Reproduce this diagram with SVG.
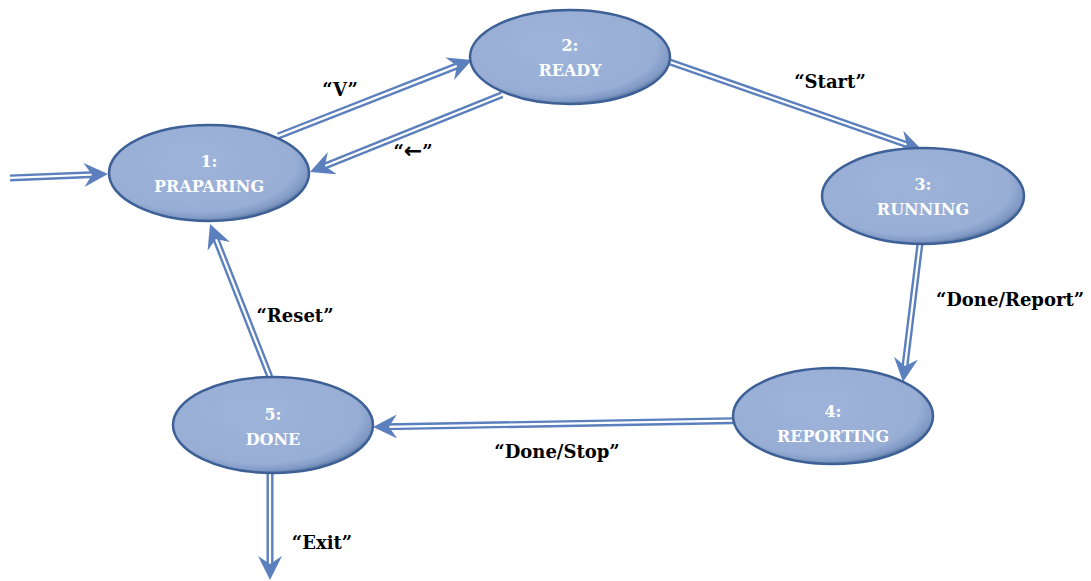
<svg xmlns="http://www.w3.org/2000/svg" width="1091" height="581" viewBox="0 0 1091 581">
<defs>
<radialGradient id="g" cx="0.45" cy="0.42" r="0.6" fx="0.4" fy="0.35">
<stop offset="0" stop-color="#9DB3D9"/>
<stop offset="0.82" stop-color="#98AED5"/>
<stop offset="0.93" stop-color="#8099C4"/>
<stop offset="1" stop-color="#4F6A98"/>
</radialGradient>
<style>
.node ellipse{fill:url(#g);stroke:#3D6096;stroke-width:2.5}
.nt{font-family:"DejaVu Serif","Liberation Serif",serif;font-weight:bold;font-size:16px;fill:#FFFFFF;text-anchor:middle}
.lbl{font-family:"DejaVu Serif","Liberation Serif",serif;font-weight:bold;font-size:18px;fill:#000000;text-anchor:middle}
.arr{font-family:"DejaVu Sans","Liberation Sans",sans-serif;font-size:22px;font-weight:bold}
.o{stroke:#5B80BD;stroke-width:7;fill:none}
.i{stroke:#FFFFFF;stroke-width:2.2;fill:none}
.h{fill:#5B80BD}
</style>
</defs>
<rect width="1091" height="581" fill="#FFFFFF"/>
<g id="connectors">
<g transform="translate(108,174) rotate(-2.3)"><line class="o" x1="-98" y1="0" x2="-12" y2="0"/><line class="i" x1="-98" y1="0" x2="-12" y2="0"/><polygon class="h" points="0,0 -24,-12 -16,0 -24,12"/></g>
<g transform="translate(472,60) rotate(-21.4)"><line class="o" x1="-208" y1="0" x2="-12" y2="0"/><line class="i" x1="-208" y1="0" x2="-12" y2="0"/><polygon class="h" points="0,0 -24,-12 -16,0 -24,12"/></g>
<g transform="translate(310,172) rotate(158.1)"><line class="o" x1="-207" y1="0" x2="-12" y2="0"/><line class="i" x1="-207" y1="0" x2="-12" y2="0"/><polygon class="h" points="0,0 -24,-12 -16,0 -24,12"/></g>
<g transform="translate(922,150) rotate(19.25)"><line class="o" x1="-267" y1="0" x2="-12" y2="0"/><line class="i" x1="-267" y1="0" x2="-12" y2="0"/><polygon class="h" points="0,0 -24,-12 -16,0 -24,12"/></g>
<g transform="translate(903,382) rotate(97)"><line class="o" x1="-139" y1="0" x2="-12" y2="0"/><line class="i" x1="-139" y1="0" x2="-12" y2="0"/><polygon class="h" points="0,0 -24,-12 -16,0 -24,12"/></g>
<g transform="translate(373,427) rotate(179)"><line class="o" x1="-360" y1="0" x2="-12" y2="0"/><line class="i" x1="-360" y1="0" x2="-12" y2="0"/><polygon class="h" points="0,0 -24,-12 -16,0 -24,12"/></g>
<g transform="translate(210,224) rotate(-111.4)"><line class="o" x1="-164" y1="0" x2="-12" y2="0"/><line class="i" x1="-164" y1="0" x2="-12" y2="0"/><polygon class="h" points="0,0 -24,-12 -16,0 -24,12"/></g>
<g transform="translate(270,580) rotate(90)"><line class="o" x1="-108" y1="0" x2="-12" y2="0"/><line class="i" x1="-108" y1="0" x2="-12" y2="0"/><polygon class="h" points="0,0 -24,-12 -16,0 -24,12"/></g>
<text class="lbl" x="340" y="96">“V”</text>
<text class="lbl" x="413" y="158">“<tspan class="arr">←</tspan>”</text>
<text class="lbl" x="830" y="88">“Start”</text>
<text class="lbl" x="1010" y="306">“Done/Report”</text>
<text class="lbl" x="557" y="458">“Done/Stop”</text>
<text class="lbl" x="295" y="322">“Reset”</text>
<text class="lbl" x="322" y="549">“Exit”</text>
</g>
<g id="n1" class="node"><ellipse cx="209" cy="173" rx="100" ry="48"/><text class="nt" x="209" y="167">1:</text><text class="nt" x="209" y="192">PRAPARING</text></g>
<g id="n2" class="node"><ellipse cx="570" cy="57" rx="100" ry="47"/><text class="nt" x="570" y="51">2:</text><text class="nt" x="570" y="76">READY</text></g>
<g id="n3" class="node"><ellipse cx="923" cy="196" rx="101" ry="48"/><text class="nt" x="923" y="190">3:</text><text class="nt" x="923" y="215">RUNNING</text></g>
<g id="n4" class="node"><ellipse cx="833" cy="416" rx="100" ry="48"/><text class="nt" x="833" y="417">4:</text><text class="nt" x="833" y="442">REPORTING</text></g>
<g id="n5" class="node"><ellipse cx="273" cy="425" rx="100" ry="48"/><text class="nt" x="273" y="420">5:</text><text class="nt" x="273" y="445">DONE</text></g>
</svg>
